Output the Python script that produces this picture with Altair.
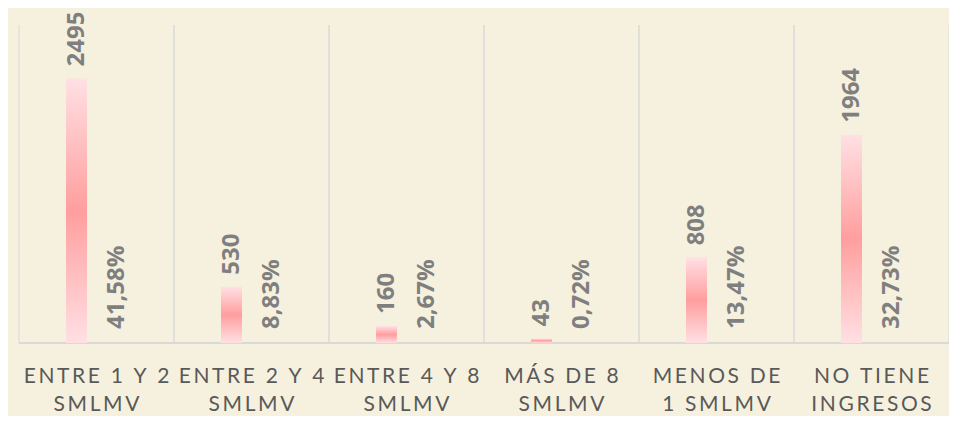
import altair as alt
import pandas as pd

categories = ["ENTRE 1 Y 2 SMLMV", "ENTRE 2 Y 4 SMLMV", "ENTRE 4 Y 8 SMLMV",
              "MÁS DE 8 SMLMV", "MENOS DE 1 SMLMV", "NO TIENE INGRESOS"]
label_lines = [["ENTRE 1 Y 2", "SMLMV"], ["ENTRE 2 Y 4", "SMLMV"], ["ENTRE 4 Y 8", "SMLMV"],
               ["MÁS DE 8", "SMLMV"], ["MENOS DE", "1 SMLMV"], ["NO TIENE", "INGRESOS"]]
counts = [2495, 530, 160, 43, 808, 1964]
percents = ["41,58%", "8,83%", "2,67%", "0,72%", "13,47%", "32,73%"]

# letter-spaced axis labels (thin spaces between characters)
spaced = ["\n".join("\u2009".join(line) for line in lines) for lines in label_lines]

df = pd.DataFrame({"cat": categories, "lab": spaced, "count": counts, "pct": percents})

W, H = 930, 318
GRID = "#D9D9D9"
BG = "#F6F1DE"

xs = alt.Scale(paddingInner=0, paddingOuter=0)
ys = alt.Scale(domain=[0, 3000])

base = alt.Chart(df)

grad = alt.Gradient(
    gradient="linear", x1=0, y1=0, x2=0, y2=1,
    stops=[alt.GradientStop(offset=0, color="#FFE0E4"),
           alt.GradientStop(offset=0.5, color="#FF9E9E"),
           alt.GradientStop(offset=1, color="#FFE0E4")],
)

grid0 = base.mark_rule(color=GRID, strokeWidth=1).encode(
    x=alt.X("cat:N", sort=categories, scale=xs, bandPosition=0, axis=None),
    y=alt.value(0), y2=alt.value(H),
)
grid1 = base.mark_rule(color=GRID, strokeWidth=1).encode(
    x=alt.X("cat:N", sort=categories, scale=xs, bandPosition=1, axis=None),
    y=alt.value(0), y2=alt.value(H),
)

baseline = base.mark_rule(color=GRID, strokeWidth=2).encode(
    x=alt.X("cat:N", sort=categories, scale=xs, bandPosition=0, axis=None),
    x2=alt.X2("cat:N", bandPosition=1),
    y=alt.value(H),
)

bars = base.mark_bar(width=21, xOffset=-20, color=grad).encode(
    x=alt.X("cat:N", sort=categories, scale=xs, axis=None),
    y=alt.Y("count:Q", scale=ys, axis=None),
)

val_labels = base.mark_text(
    angle=270, align="left", baseline="middle", xOffset=-20, yOffset=-12,
    font="Open Sans", fontWeight="bold", fontSize=24, color="#7F7F7F",
).encode(
    x=alt.X("cat:N", sort=categories, scale=xs, axis=None),
    y=alt.Y("count:Q", scale=ys, axis=None),
    text="count:Q",
)

pct_labels = base.mark_text(
    angle=270, align="left", baseline="middle", xOffset=20,
    font="Open Sans", fontWeight="bold", fontSize=24, color="#7F7F7F",
).encode(
    x=alt.X("cat:N", sort=categories, scale=xs, axis=None),
    y=alt.value(H - 14),
    text="pct:N",
)

cat_labels = base.mark_text(
    align="center", baseline="alphabetic", lineBreak="\n", lineHeight=28,
    font="Lato", fontSize=21, color="#595959",
).encode(
    x=alt.X("cat:N", sort=categories, scale=xs, axis=None),
    y=alt.value(H + 40),
    text="lab:N",
)

chart = alt.layer(grid0, grid1, baseline, bars, val_labels, pct_labels, cat_labels).properties(
    width=W, height=H,
    autosize=alt.AutoSizeParams(type="none"),
    padding={"left": 11, "top": 17, "right": 0, "bottom": 73},
    background=BG,
).configure_view(stroke=None)

chart.save("out.html", embed_options={"renderer": "svg", "actions": False})
